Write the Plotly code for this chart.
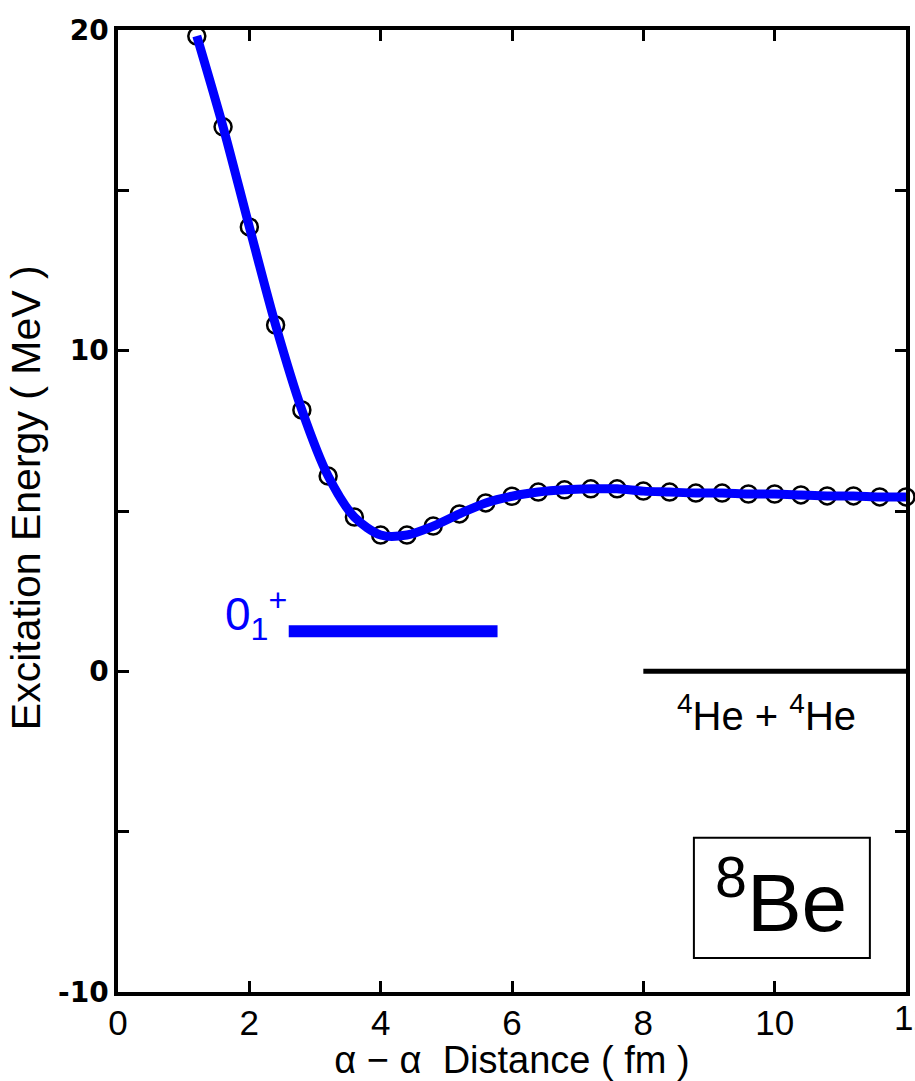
import plotly.graph_objects as go

# alpha-alpha distance (fm) and excitation energy (MeV)
distance = [1.2, 1.6, 2.0, 2.4, 2.8, 3.2, 3.6, 4.0, 4.4, 4.8, 5.2, 5.6, 6.0, 6.4, 6.8,
            7.2, 7.6, 8.0, 8.4, 8.8, 9.2, 9.6, 10.0, 10.4, 10.8, 11.2, 11.6, 12.0]
energy = [19.81, 16.98, 13.86, 10.80, 8.15, 6.09, 4.81, 4.25, 4.25, 4.53, 4.91, 5.25,
          5.46, 5.59, 5.66, 5.69, 5.69, 5.62, 5.59, 5.56, 5.56, 5.53, 5.53, 5.50,
          5.47, 5.47, 5.44, 5.44]

# 0_1^+ level
level_x = [2.6, 5.78]
level_e = [1.25, 1.25]
# 4He + 4He threshold
thr_x = [8.0, 12.0]
thr_e = [0.0, 0.0]

x_ticks = [0, 2, 4, 6, 8, 10, 12]
y_ticks = [-10, 0, 10, 20]

arial = "Liberation Sans, Arial, sans-serif"

fig = go.Figure()
fig.add_trace(go.Scatter(x=distance, y=energy, mode="markers",
                         marker=dict(symbol="circle-open", size=17, color="black",
                                     line=dict(width=2.5, color="black")),
                         cliponaxis=False, showlegend=False))
fig.add_trace(go.Scatter(x=distance, y=energy, mode="lines",
                         line=dict(color="#0000ff", width=9, shape="spline", smoothing=0.8),
                         cliponaxis=False, showlegend=False))
fig.add_trace(go.Scatter(x=level_x, y=level_e, mode="lines",
                         line=dict(color="#0000ff", width=12), showlegend=False))
fig.add_trace(go.Scatter(x=thr_x, y=thr_e, mode="lines",
                         line=dict(color="black", width=5), showlegend=False))

fig.add_annotation(x=level_x[0], y=level_e[0], xref="x", yref="y",
                   text="0<sub>1</sub><sup>+</sup>", showarrow=False,
                   xanchor="right", yanchor="middle", xshift=0, yshift=17,
                   font=dict(family=arial, size=46, color="#0000ff"))
fig.add_annotation(x=9.87, y=-1.42, xref="x", yref="y",
                   text="<sup>4</sup>He + <sup>4</sup>He", showarrow=False,
                   yanchor="middle", yshift=4,
                   font=dict(family=arial, size=40, color="black"))
fig.add_shape(type="rect", x0=8.77, x1=11.45, y0=-5.19, y1=-8.94, xref="x", yref="y",
              line=dict(color="black", width=2), fillcolor="rgba(0,0,0,0)")
fig.add_annotation(x=10.09, y=-7.16, xref="x", yref="y",
                   text="<sup>8</sup>Be", showarrow=False, yanchor="middle", yshift=4,
                   font=dict(family=arial, size=82, color="black"))

# y axis title
fig.add_annotation(x=0, y=5.4, xref="paper", yref="y", xshift=-117,
                   text="Excitation Energy ( MeV )", textangle=-90, showarrow=False,
                   font=dict(family=arial, size=41, color="black"))
# edge tick label (clipped by page)
fig.add_annotation(x=12, y=0, xref="x", yref="paper", xanchor="left", xshift=-14,
                   yanchor="top", yshift=-4,
                   text="12", showarrow=False,
                   font=dict(family=arial, size=35, color="black"))

fig.update_xaxes(range=[0, 12], tickvals=x_ticks[:-1], ticktext=[str(v) for v in x_ticks[:-1]],
                 ticks="inside", ticklen=11, tickwidth=3, tickcolor="black",
                 showline=True, linewidth=3.5, linecolor="black", mirror="allticks",
                 showgrid=False, zeroline=False, ticklabelstandoff=-3,
                 tickfont=dict(family=arial, size=35, color="black"),
                 title=dict(text="\u03b1 \u2212 \u03b1  Distance ( fm )",
                            font=dict(family=arial, size=38, color="black"), standoff=0))
fig.update_xaxes(tickvals=x_ticks)
fig.update_yaxes(range=[-10, 20], tickvals=[-10, -5, 0, 5, 10, 15, 20],
                 ticktext=["-10", "", "0", "", "10", "", "20"],
                 ticks="inside", ticklen=11, tickwidth=3, tickcolor="black",
                 showline=True, linewidth=3.5, linecolor="black", mirror="allticks",
                 showgrid=False, zeroline=False,
                 tickfont=dict(family="DejaVu Sans", size=28, color="black", weight="bold"))

fig.update_layout(width=915, height=1081, margin=dict(l=118, r=5, t=30, b=89),
                  plot_bgcolor="white", paper_bgcolor="white")
fig.write_html("out.html")
